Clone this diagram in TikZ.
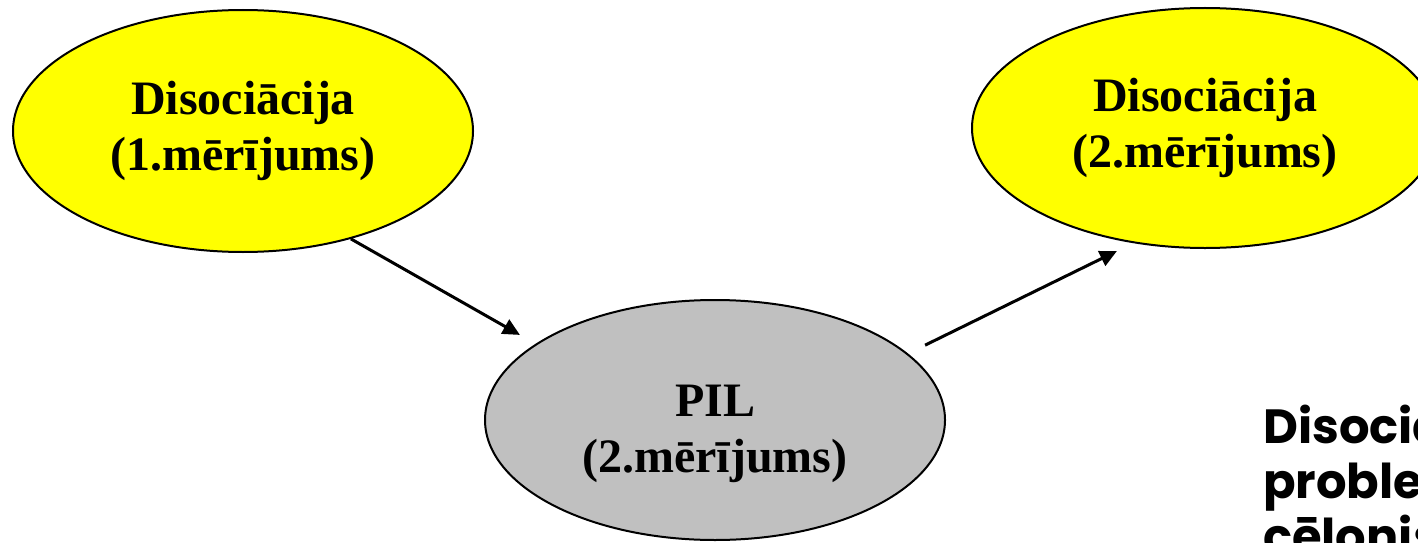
\documentclass[tikz,border=0pt]{standalone}
\usepackage{fontspec}
\setmainfont{Liberation Serif}
\newfontfamily\gothicfont{Poppins}
\usetikzlibrary{arrows.meta,shapes.geometric}
\definecolor{pilgray}{RGB}{192,192,192}
\definecolor{bubbleyellow}{RGB}{255,255,0}
\begin{document}
\begin{tikzpicture}[x=1pt,y=-1pt,
  bubble/.style={ellipse, draw=black, line width=2pt, inner sep=0pt,
    font=\fontsize{48}{56}\selectfont\bfseries, align=center},
  yel/.style={bubble, fill=bubbleyellow},
  gry/.style={bubble, fill=pilgray},
  arr/.style={-{Triangle[length=17pt,width=16pt]}, line width=3pt},
  note/.style={anchor=base west, align=left, inner sep=0pt,
    font=\gothicfont\bfseries\fontsize{48}{55}\selectfont}]
\useasboundingbox (0,0) rectangle (1418,543);
\clip (0,0) rectangle (1418,543);
\node[yel, minimum width=460pt, minimum height=242pt] (d1) at (243,131)
  {Disociācija\\(1.mērījums)};
\node[yel, minimum width=466pt, minimum height=240pt] (d2) at (1205,128)
  {Disociācija\\(2.mērījums)};
\node[gry, minimum width=460pt, minimum height=240pt,
  label={[font=\fontsize{48}{56}\selectfont\bfseries, align=center, yshift=-14pt]center:PIL\\(2.mērījums)}] (p) at (715,420) {};
\draw[arr, shorten >=18pt] (d1.-45) -- (p.157);
\draw[arr, shorten <=19pt, shorten >=18pt] (p.19) -- (d2.-122);
\node[note] (t) at (1263,553) {Disociācija\\problemātiskas\\cēlonis};
\end{tikzpicture}
\end{document}
